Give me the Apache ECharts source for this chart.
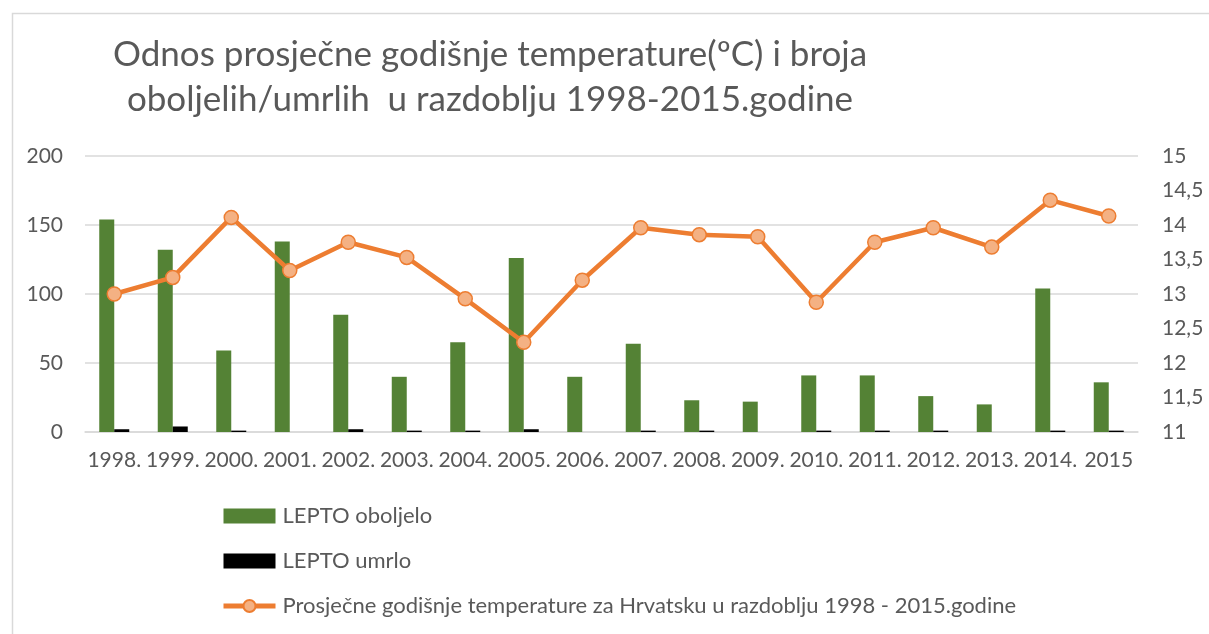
<!DOCTYPE html>
<html>
<head>
<meta charset="utf-8">
<script src="https://cdn.jsdelivr.net/npm/echarts@6/dist/echarts.min.js"></script>
<style>html,body{margin:0;padding:0;background:#fff}#c{width:1209px;height:634px}</style>
</head>
<body>
<div id="c"></div>
<script>
var years = ['1998.','1999.','2000.','2001.','2002.','2003.','2004.','2005.','2006.','2007.','2008.','2009.','2010.','2011.','2012.','2013.','2014.','2015'];
var oboljelo = [154,132,59,138,85,40,65,126,40,64,23,22,41,41,26,20,104,36];
var umrlo = [2,4,1,0,2,1,1,2,0,1,1,0,1,1,1,0,1,1];
var temperatura = [13.0,13.24,14.11,13.34,13.75,13.53,12.93,12.3,13.2,13.96,13.86,13.83,12.88,13.75,13.96,13.68,14.36,14.13];
var titleLines = ['Odnos prosječne godišnje temperature(ºC) i broja','oboljelih/umrlih  u razdoblju 1998-2015.godine'];
var seriesNames = ['LEPTO oboljelo','LEPTO umrlo','Prosječne godišnje temperature za Hrvatsku u razdoblju 1998 - 2015.godine'];

var FONT = "Lato,'Open Sans',sans-serif";
var TXT = '#595959';
var chart = echarts.init(document.getElementById('c'));
chart.setOption({
  animation: false,
  backgroundColor: '#fff',
  graphic: [{
    type: 'rect', left: 10, top: 11, shape: {width: 1210, height: 640},
    style: {fill: 'none', stroke: '#d9d9d9', lineWidth: 1.5}, silent: true, z: -1
  }],
  title: {
    text: titleLines.join('\n'),
    left: 485, textAlign: 'center', top: 27,
    textStyle: {fontFamily: FONT, fontSize: 35, fontWeight: 'normal', color: TXT, lineHeight: 45}
  },
  legend: {
    orient: 'vertical', left: 216, top: 500, itemGap: 23, itemWidth: 52, itemHeight: 15,
    textStyle: {fontFamily: FONT, fontSize: 22, color: TXT, lineHeight: 22, padding: [0,0,0,2]},
    data: [
      {name: seriesNames[0], icon: 'rect'},
      {name: seriesNames[1], icon: 'rect'},
      {name: seriesNames[2], lineStyle: {width: 5, color: '#ed7d31'}}
    ]
  },
  grid: {left: 85, right: 71, top: 156, bottom: 202, containLabel: false},
  xAxis: {
    type: 'category', data: years,
    axisLine: {lineStyle: {color: '#d9d9d9', width: 1.5}},
    axisTick: {show: false},
    axisLabel: {interval: 0, fontFamily: FONT, fontSize: 21, color: TXT, margin: 18}
  },
  yAxis: [{
    type: 'value', min: 0, max: 200, interval: 50,
    axisLine: {show: false}, axisTick: {show: false},
    splitLine: {lineStyle: {color: '#d9d9d9', width: 1.5}},
    axisLabel: {fontFamily: FONT, fontSize: 21, color: TXT, margin: 22}
  }, {
    type: 'value', min: 11, max: 15, interval: 0.5,
    axisLine: {show: false}, axisTick: {show: false}, splitLine: {show: false},
    axisLabel: {fontFamily: FONT, fontSize: 21, color: TXT, margin: 24,
      formatter: function (v) { return String(v).replace('.', ','); }}
  }],
  series: [{
    name: seriesNames[0], type: 'bar', data: oboljelo, barWidth: 15, barGap: '0%',
    itemStyle: {color: '#548235'}
  }, {
    name: seriesNames[1], type: 'bar', data: umrlo, barWidth: 15, barGap: '0%',
    itemStyle: {color: '#000000'}
  }, {
    name: seriesNames[2], type: 'line', yAxisIndex: 1, data: temperatura,
    symbol: 'circle', symbolSize: 14,
    lineStyle: {color: '#ed7d31', width: 4.5},
    itemStyle: {color: '#f4b183', borderColor: '#ed7d31', borderWidth: 1.5},
    z: 5
  }]
});
</script>
</body>
</html>
